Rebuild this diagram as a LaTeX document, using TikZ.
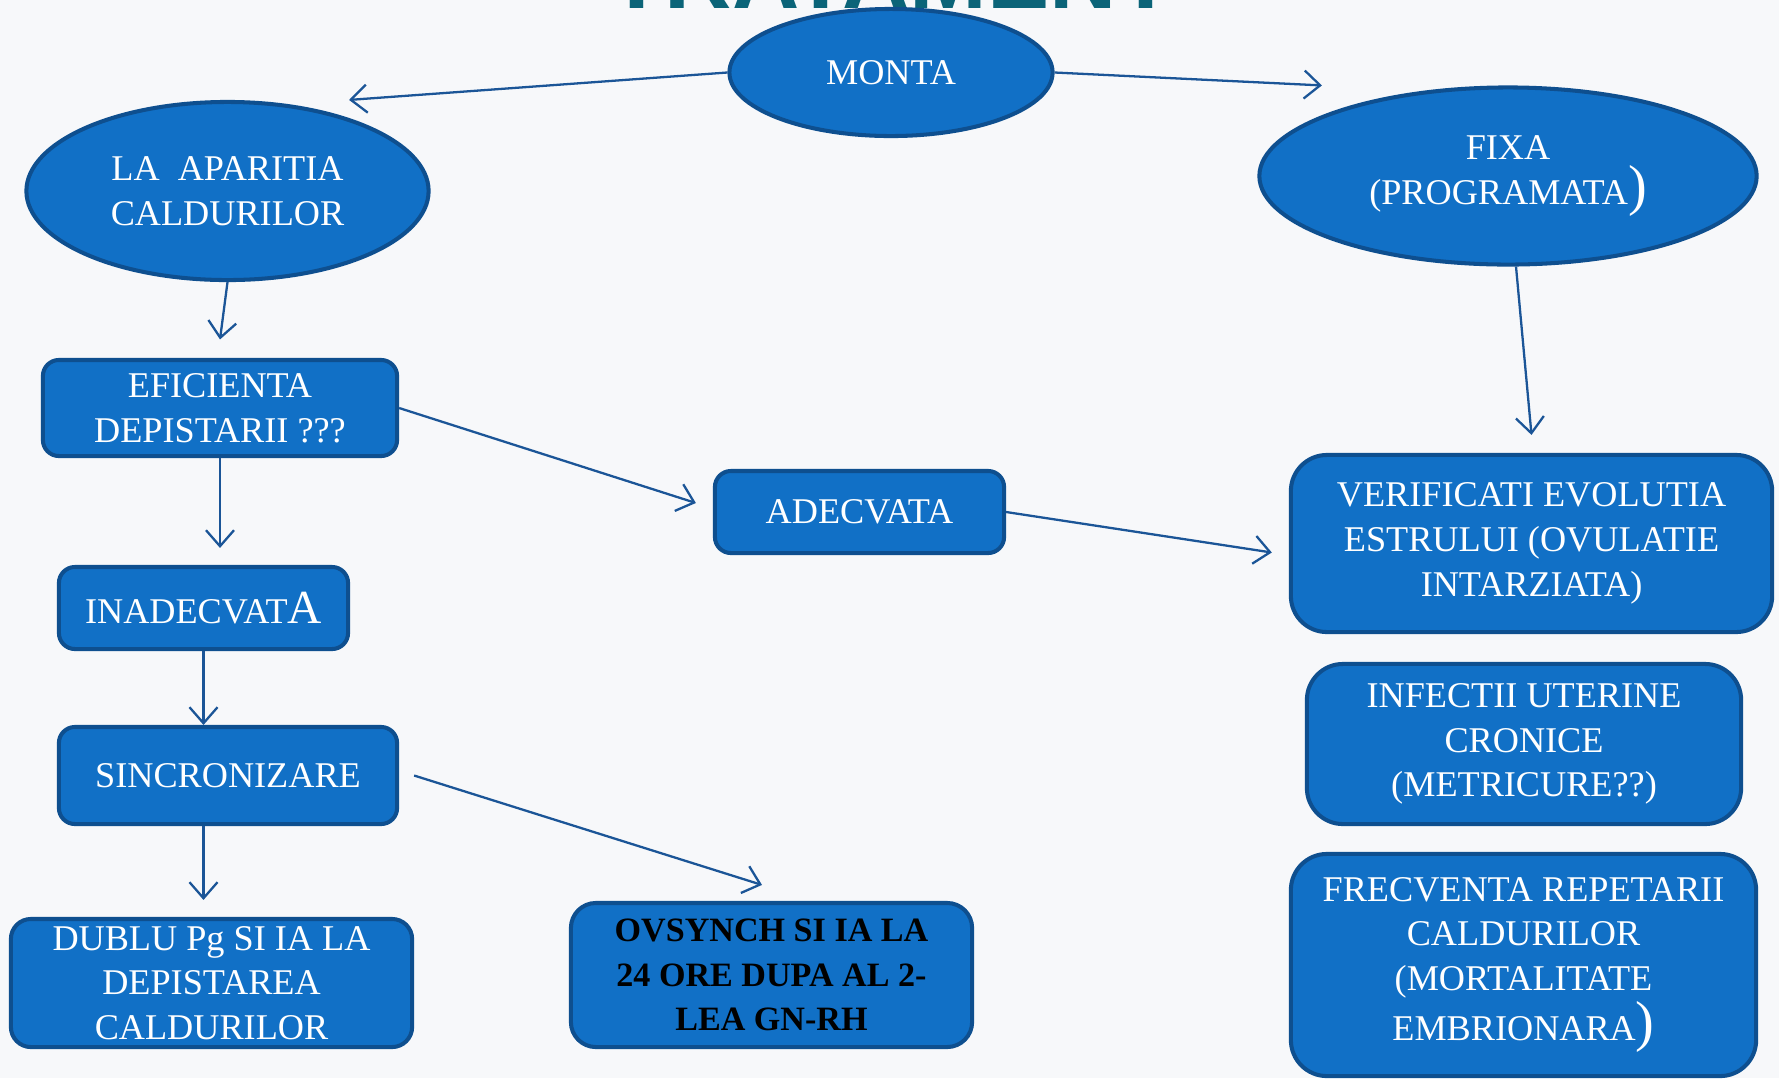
\documentclass[tikz,border=0pt]{standalone}
\usepackage{fontspec}
\setmainfont{Liberation Serif}
\newfontfamily\titlufont{Liberation Sans}
\usetikzlibrary{shapes.geometric,arrows.meta,calc}
\definecolor{umplere}{HTML}{1170C6}
\definecolor{contur}{HTML}{0E4F8F}
\definecolor{linie}{HTML}{1B5597}
\definecolor{titlu}{HTML}{0B6478}
\definecolor{fundal}{HTML}{F7F8FA}
\tikzset{
  baza/.style={fill=umplere, draw=contur, line width=1.15pt, text=white, align=center, inner sep=0pt, font=\fontsize{10.3}{12.7}\selectfont},
  elipsa/.style={baza, ellipse},
  caseta/.style={baza, rectangle, rounded corners=1.6mm},
  casetamare/.style={baza, rectangle, rounded corners=3.6mm},
  leg/.style={draw=linie, line width=0.65pt, -{Straight Barb[length=1.6mm,width=2.8mm]}}
}

\begin{document}
\begin{tikzpicture}[x=0.01cm, y=-0.01cm]
  \clip (0,0) rectangle (1779,1078);
  \fill[fundal] (0,0) rectangle (1779,1078);
  \node[anchor=base, text=titlu, font=\titlufont\bfseries\fontsize{26.5}{30}\selectfont] (titlul) at (891,8) {TRATAMENT};

  \node[elipsa, minimum width=3.23cm, minimum height=1.27cm] (monta) at (891,72.5) {MONTA};
  \node[elipsa, minimum width=4.02cm, minimum height=1.78cm] (aparitia) at (227.5,191) {LA\ \ APARITIA\\CALDURILOR};
  \node[elipsa, minimum width=4.97cm, minimum height=1.77cm] (fixa) at (1508,176) {FIXA\\(PROGRAMATA{\fontsize{16}{16}\selectfont)}};
  \node[caseta, minimum width=3.54cm, minimum height=0.96cm] (eficienta) at (220,408) {EFICIENTA\\DEPISTARII ???};
  \node[caseta, minimum width=2.89cm, minimum height=0.82cm] (adecvata) at (859.5,512) {ADECVATA};
  \node[casetamare, minimum width=4.81cm, minimum height=1.77cm] (verificati) at (1531.5,543.5) {VERIFICATI EVOLUTIA\\ESTRULUI (OVULATIE\\INTARZIATA)};
  \node[caseta, minimum width=2.89cm, minimum height=0.82cm] (inadecvata) at (203.5,608) {INADECVAT{\fontsize{13.5}{13.5}\selectfont A}};
  \node[caseta, minimum width=3.38cm, minimum height=0.97cm] (sincronizare) at (228,775.5) {SINCRONIZARE};
  \node[caseta, rounded corners=2mm, minimum width=4.01cm, minimum height=1.28cm] (dublu) at (211.5,983) {DUBLU Pg SI IA LA\\DEPISTAREA\\CALDURILOR};
  \node[caseta, rounded corners=2.5mm, minimum width=4.01cm, minimum height=1.44cm, text=black, font=\bfseries\fontsize{9.7}{12.7}\selectfont] (ovsynch) at (771.5,975) {OVSYNCH SI IA LA\\24 ORE DUPA AL 2-\\LEA GN-RH};
  \node[casetamare, minimum width=4.34cm, minimum height=1.60cm] (infectii) at (1524,744) {INFECTII UTERINE\\CRONICE\\(METRICURE??)};
  \node[casetamare, minimum width=4.65cm, minimum height=2.22cm] (frecventa) at (1523.5,965) {FRECVENTA REPETARII\\CALDURILOR\\(MORTALITATE\\EMBRIONARA{\fontsize{16}{16}\selectfont)}};

  \draw[leg] (monta.west) -- ([xshift=1.215cm]aparitia.north);
  \draw[leg] (monta.east) -- ([xshift=-1.86cm]fixa.north);
  \draw[leg] (aparitia.south) -- ([yshift=1.85mm]eficienta.north);
  \draw[leg] ([xshift=0.8mm]fixa.south) -- ([yshift=1.8mm]verificati.north);
  \draw[leg] (eficienta.east) -- ([xshift=-1.7mm,yshift=0.9mm]adecvata.west);
  \draw[leg] (eficienta.south) -- ($(inadecvata.north -| eficienta.south)+(0,1.7mm)$);
  \draw[leg] (adecvata.east) -- ([xshift=-1.7mm,yshift=-0.9mm]verificati.west);
  \draw[leg] (inadecvata.south) -- (inadecvata.south |- sincronizare.north);
  \draw[leg] ([xshift=1.5mm]sincronizare.east) -- ([xshift=-0.95mm,yshift=1.6mm]ovsynch.north);
  \draw[leg] (sincronizare.south -| inadecvata.south) -- ($(dublu.north -| inadecvata.south)+(0,1.7mm)$);
\end{tikzpicture}
\end{document}
